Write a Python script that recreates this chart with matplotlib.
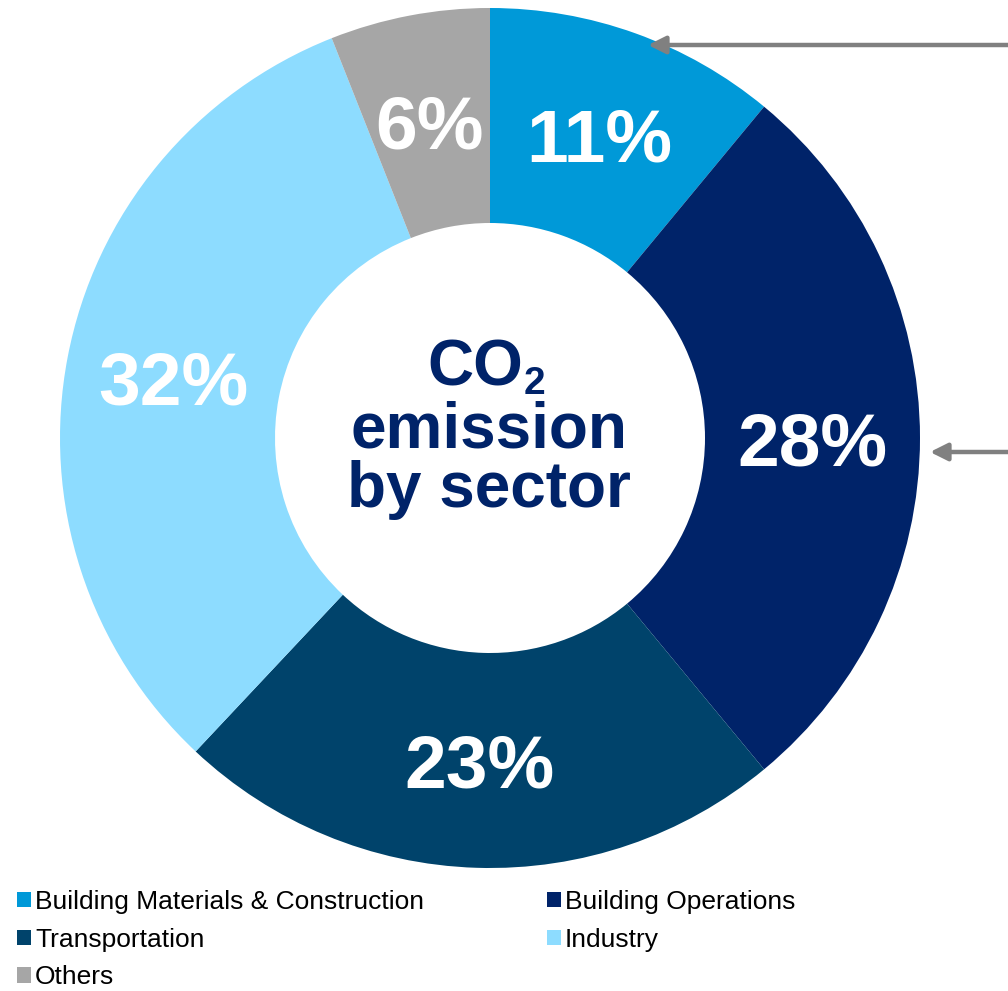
import matplotlib.pyplot as plt

sectors = ["Building Materials & Construction", "Building Operations",
           "Transportation", "Industry", "Others"]
shares = [11, 28, 23, 32, 6]
colors = ["#0099D8", "#002369", "#00436B", "#8DDCFF", "#A6A6A6"]

W, H = 1008, 991
NAVY = "#002369"
FONT = "Liberation Sans"


def py(y):
    # pixel rows counted from the top
    return H - y


fig = plt.figure(figsize=(W / 100, H / 100), dpi=100)
ax = fig.add_axes([0, 0, 1, 1])

wedges, _, pcts = ax.pie(
    shares, colors=colors, startangle=90, counterclock=False,
    radius=430, center=(490, py(438)),
    wedgeprops=dict(width=215, linewidth=0),
    autopct="%d%%", pctdistance=0.75,
    textprops=dict(color="white", fontsize=54, fontweight="bold", family=FONT),
)
for t in pcts:
    t.set_va("center_baseline")

ax.set_xlim(0, W)
ax.set_ylim(0, H)
ax.set_aspect("equal")
ax.axis("off")

# centre title
ax.text(523, py(385), "CO", ha="right", va="baseline", fontsize=46,
        fontweight="bold", color=NAVY, family=FONT)
ax.text(524, py(394), "2", ha="left", va="baseline", fontsize=28,
        fontweight="bold", color=NAVY, family=FONT)
ax.text(489, py(447), "emission", ha="center", va="baseline", fontsize=46,
        fontweight="bold", color=NAVY, family=FONT)
ax.text(489, py(507), "by sector", ha="center", va="baseline", fontsize=46,
        fontweight="bold", color=NAVY, family=FONT)

# pointer arrows from the right margin
arrow = dict(arrowstyle="-|>", color="#808080", lw=3.2, mutation_scale=26,
             shrinkA=0, shrinkB=0)
ax.annotate("", xy=(648, py(45)), xytext=(W + 5, py(45)), arrowprops=arrow)
ax.annotate("", xy=(930, py(452)), xytext=(W + 5, py(452)), arrowprops=arrow)

order = [0, 2, 4, 1, 3]
leg = ax.legend([wedges[i] for i in order], [sectors[i] for i in order],
                ncol=2, frameon=False, loc="upper left",
                bbox_to_anchor=(17 / W, py(890) / H),
                prop=dict(family=FONT, size=19),
                handlelength=0.53, handleheight=0.53, handletextpad=0.15,
                columnspacing=4.65, labelspacing=0.52, borderpad=0,
                borderaxespad=0)

fig.savefig("out.png", dpi=100)
